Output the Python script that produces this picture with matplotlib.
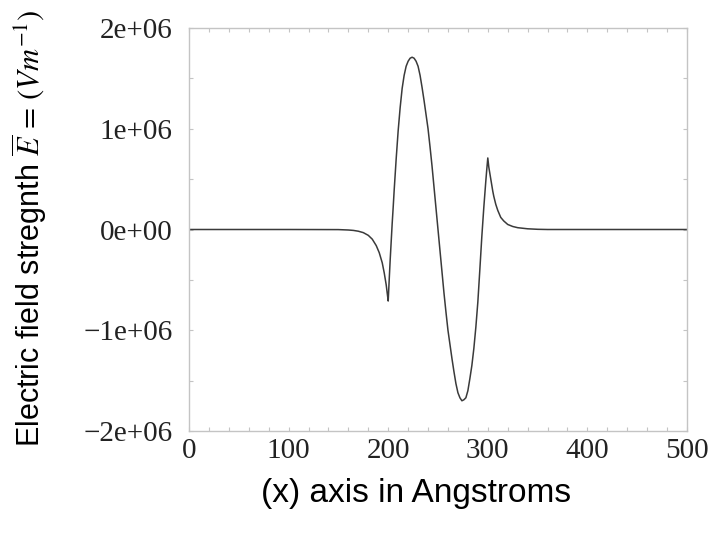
"""Electric field profile across the slab."""

import matplotlib

matplotlib.use("Agg")
import matplotlib.pyplot as plt
from matplotlib.ticker import FuncFormatter, MultipleLocator

# position in Angstroms
x_pos = [0, 100, 150, 160, 165, 170, 175, 180, 184, 188, 191, 194, 196, 198, 199,
         200, 201, 202, 203, 204, 205, 206, 208, 210, 212, 214, 216, 218, 220, 222,
         224, 226, 228, 230, 232, 234, 236, 238, 240, 242, 244, 246, 248, 250,
         252, 254, 256, 258, 260, 262, 264, 266, 268, 270, 272, 274, 276, 278, 280,
         282, 284, 286, 288, 290, 292, 294, 296, 298, 299, 300,
         301, 302, 303, 304, 305, 306, 308, 310, 313, 316, 320, 325, 330, 340, 350,
         360, 400, 500]
# field strength in units of 1e6 V/m
field_e6 = [0, 0, -0.001, -0.005, -0.009, -0.017, -0.031, -0.058, -0.096, -0.16, -0.23,
            -0.33, -0.43, -0.55, -0.63,
            -0.71, -0.50, -0.30, -0.12, 0.06, 0.22, 0.39, 0.70, 0.98, 1.21, 1.40, 1.53,
            1.62, 1.67, 1.70,
            1.71, 1.70, 1.67, 1.62, 1.53, 1.41, 1.28, 1.14, 1.00, 0.82, 0.63, 0.42,
            0.21, 0.0,
            -0.21, -0.42, -0.63, -0.82, -1.00, -1.14, -1.28, -1.41, -1.53, -1.62,
            -1.67, -1.70, -1.69, -1.67, -1.60,
            -1.48, -1.35, -1.18, -0.97, -0.72, -0.40, -0.07, 0.22, 0.48, 0.60, 0.71,
            0.62, 0.56, 0.50, 0.44, 0.38, 0.33, 0.25, 0.19, 0.12, 0.085, 0.05, 0.03,
            0.018, 0.007, 0.002, 0, 0, 0]

x_ticks = [0, 100, 200, 300, 400, 500]
y_ticks = [-2e6, -1e6, 0, 1e6, 2e6]

plt.rcParams["mathtext.fontset"] = "stix"

W, H = 713, 535


def sci_label(v, _pos):
    s = f"{v:.0e}"
    return s.replace("-", "\u2212", 1) if s.startswith("-") else s


fig = plt.figure(figsize=(W / 100, H / 100), dpi=100)
ax = fig.add_axes([189 / W, 1 - 431 / H, 498 / W, 403 / H])
ax.plot(x_pos, [v * 1e6 for v in field_e6], color="#3a3a3a", linewidth=1.1)

ax.set_xlim(0, 500)
ax.set_ylim(-2e6, 2e6)
ax.set_xticks(x_ticks)
ax.set_yticks(y_ticks)
ax.xaxis.set_minor_locator(MultipleLocator(20))
ax.yaxis.set_minor_locator(MultipleLocator(5e5))
ax.yaxis.set_major_formatter(FuncFormatter(sci_label))

for side in ax.spines.values():
    side.set_color("#c4c4c4")
    side.set_linewidth(1.0)
ax.tick_params(which="both", direction="in", top=True, right=True,
               color="#c4c4c4", length=3, width=0.8)
ax.tick_params(axis="y", which="major", pad=12)
ax.tick_params(axis="x", which="major", pad=5)
for lab in ax.get_xticklabels() + ax.get_yticklabels():
    lab.set_family("Liberation Serif")
    lab.set_fontsize(21)
    lab.set_color("#222222")

ax.set_xlabel("(x) axis in Angstroms", family="Liberation Sans", fontsize=24)
ax.xaxis.set_label_coords((416 - 189) / 498, (431 - 478) / 403)

# y label drawn as figure text so its baseline and start can be placed
fig.text(40 / W, 1 - 447 / H,
         r"Electric field stregnth $\overline{E}\,=\,(Vm^{-1})$",
         family="Liberation Sans", fontsize=22, rotation=90,
         rotation_mode="anchor", ha="left", va="baseline")

fig.savefig("out.png", dpi=100)
plt.close(fig)
